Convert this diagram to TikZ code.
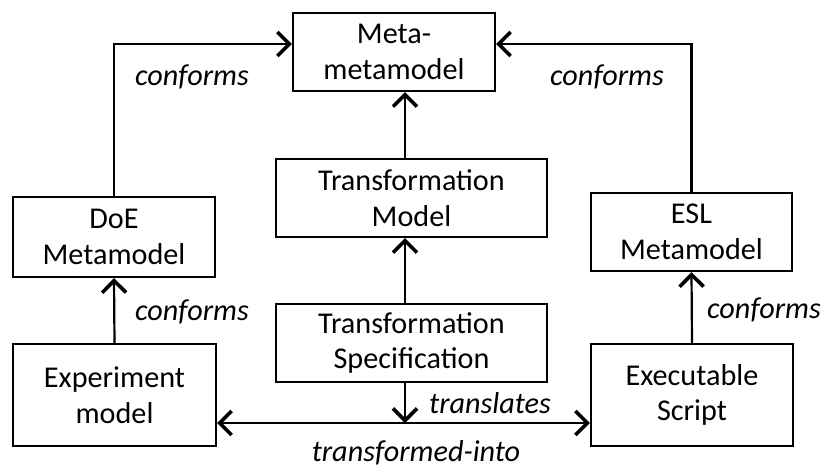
\documentclass[tikz,border=0pt]{standalone}
\usepackage{fontspec}
\setmainfont{Carlito}
\usetikzlibrary{arrows.meta}
\begin{document}
\begin{tikzpicture}[x=1pt,y=-1pt,line width=2.2pt,
  font=\fontsize{30.2}{35.6}\selectfont,
  box/.style={draw,align=center,inner sep=0pt,minimum width=#1,minimum height=78pt},
  rel/.style={font=\fontsize{30.2}{35.6}\selectfont\itshape,inner sep=0pt},
  >={Straight Barb[length=12pt,width=24pt,line width=3.6pt]}]
\useasboundingbox (0,0) rectangle (825,469);
\pgfmathsetmacro{\spine}{405}
\pgfmathsetmacro{\bus}{423}
\pgfmathsetmacro{\top}{44}
\coordinate(spine)at(\spine,\bus);
\coordinate(top)at(0,\top);
\node[box=202pt](mm)at(394,52){Meta-\\metamodel};
\node[box=271pt](tm)at(411.5,198){Transformation\\Model};
\node[box=271pt](ts)at(411.5,343){Transformation\\Specification};
\node[box=202pt,minimum height=80pt](doe)at(114,237){DoE\\Metamodel};
\node[box=201pt](esl)at(691.5,232){ESL\\Metamodel};
\node[box=203pt,minimum height=102pt](exp)at(114.5,395){Experiment\\model};
\node[box=202pt,minimum height=102pt](exe)at(692,395){Executable\\Script};
\draw[->](doe.north)|-(mm.west|-top);
\draw[->](esl.north)|-(mm.east|-top);
\draw[->](exp.north)--(doe.south);
\draw[->](exe.north)--(esl.south);
\draw[->](ts.north-|spine)--(tm.south-|spine);
\draw[->](tm.north-|spine)--(mm.south-|spine);
\draw[->](ts.south-|spine)--(spine);
\draw[<->](exp.east|-spine)--(exe.west|-spine);
\node[rel](c1)at(192,77){conforms};
\node[rel](c2)at(607,77){conforms};
\node[rel](c3)at(192,312){conforms};
\node[rel](c4)at(764,310){conforms};
\node[rel](tr)at(490,403){translates};
\node[rel](ti)at(416,453){transformed-into};
\end{tikzpicture}
\end{document}
